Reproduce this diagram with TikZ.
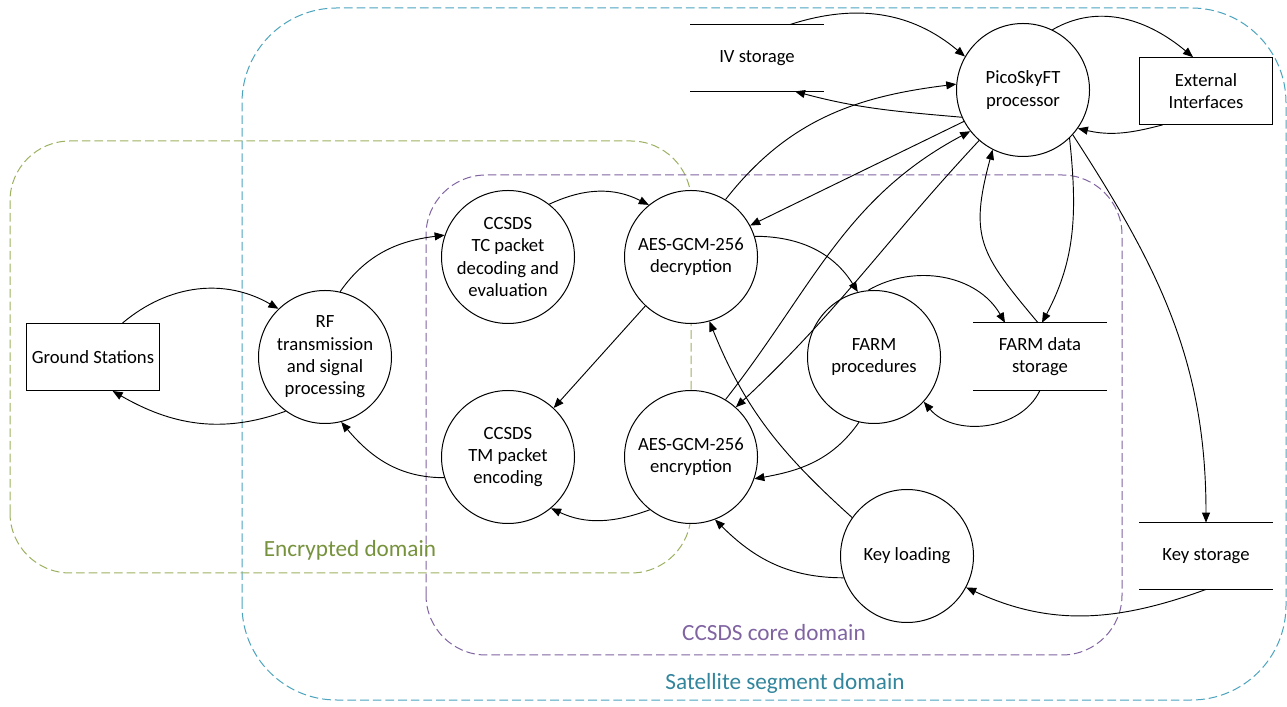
\documentclass[tikz,border=0pt]{standalone}
\usepackage{fontspec}
\setmainfont{Carlito}
\usetikzlibrary{arrows.meta,calc}
\definecolor{tealline}{HTML}{4BA3BE}
\definecolor{teallabel}{HTML}{31859C}
\definecolor{greenline}{HTML}{9BB160}
\definecolor{greenlabel}{HTML}{76923C}
\definecolor{purpleline}{HTML}{8064A2}
\definecolor{purplelabel}{HTML}{8064A2}
\begin{document}
\begin{tikzpicture}[x=0.75pt,y=0.75pt,
  proc/.style={circle,draw,fill=white,line width=0.75pt,minimum size=99.75pt,inner sep=0pt,align=center,font=\fontsize{14}{16.8}\selectfont},
  extbox/.style={rectangle,draw,fill=white,line width=0.75pt,minimum width=100pt,minimum height=50pt,inner sep=0pt,align=center,font=\fontsize{14}{16.8}\selectfont},
  store/.style={rectangle,minimum width=100pt,minimum height=49.75pt,inner sep=0pt,align=center,font=\fontsize{14}{16.8}\selectfont},
  storeline/.style={line width=0.75pt},
  conn/.style={line width=0.7pt,-{Triangle[length=7.5pt,width=6pt]}},
  dom/.style={line width=0.75pt,dash pattern=on 6.5pt off 3pt},
  domlabel/.style={font=\fontsize{17.4}{20}\selectfont,inner sep=0pt}]
\useasboundingbox (0,0) rectangle (1287,706);
% domains
\draw[dom,tealline,rounded corners=71pt] (242,6) rectangle (1286,698);
\draw[dom,greenline,rounded corners=45pt] (10,133) rectangle (691,565);
\draw[dom,purpleline,rounded corners=45pt] (426,51) rectangle (1122,531);
\node[domlabel,text=greenlabel] (lenc) at (350,156) {Encrypted domain};
\node[domlabel,text=purplelabel] (lcore) at (774,73) {CCSDS core domain};
\node[domlabel,text=teallabel] (lsat) at (785,23) {Satellite segment domain};
% nodes
\node[extbox,minimum height=50.25pt] (gs) at (93,349) {Ground Stations};
\node[proc] (rf) at (325,349) {RF\\transmission\\and signal\\processing};
\node[proc] (tc) at (508,449) {CCSDS\\TC packet\\decoding and\\evaluation};
\node[proc] (dec) at (691,449) {AES-GCM-256\\decryption};
\node[proc] (tm) at (508,249) {CCSDS\\TM packet\\encoding};
\node[proc] (enc) at (691,249) {AES-GCM-256\\encryption};
\node[proc] (farm) at (874,349) {FARM\\procedures};
\node[proc] (key) at (907,150) {Key loading};
\node[proc] (pico) at (1023,616) {PicoSkyFT\\processor};
\node[extbox] (ext) at (1206,615) {External\\Interfaces};
\node[store] (iv) at (757,648) {IV storage};
\node[store,minimum height=50.25pt] (fds) at (1040,349.5) {FARM data\\storage};
\node[store] (ks) at (1206,150) {Key storage};
\foreach \s in {iv,fds,ks}{
  \draw[storeline] (\s.north west) -- (\s.north east);
  \draw[storeline] (\s.south west) -- (\s.south east);
}
% connectors
\draw[conn] (gs.49.5) to[out=40,in=150] (rf.134);
\draw[conn] (rf.234) to[out=200,in=-30] (gs.300.5);
\draw[conn] (rf.77) to[out=55,in=187] (tc.161);
\draw[conn] (tc.52) to[out=25,in=153] (dec.129);
\draw[conn] (dec.227) -- (tm.47);
\draw[conn] (enc.232) to[out=200,in=-25] (tm.310);
\draw[conn] (tm.198) to[out=180,in=-50] (rf.284);
\draw[conn] (dec.18) to[out=0,in=122] (farm.104);
\draw[conn] (farm.95) to[out=30,in=120] ($(fds.north)+(-35,0)$);
\draw[conn] (fds.south) to[out=245,in=-50] (farm.318);
\draw[conn] (farm.257) to[out=235,in=10] (enc.341);
\draw[conn] (key.145) to[out=138,in=292] (dec.286);
\draw[conn] (key.199) to[out=180,in=-45] (enc.291);
\draw[conn] (ks.south) to[out=200,in=-25] (key.332);
\draw[conn] (pico.318) to[out=-57,in=90] (ks.north);
\draw[conn] (pico.314) to[out=-84,in=62] ($(fds.north)+(2,0)$);
\draw[conn] ($(fds.north)+(-2,0)$) to[out=130,in=-105,looseness=1.3] (pico.243);
\draw[conn] (ext.218) to[out=195,in=-13] (pico.325);
\draw[conn] (pico.64) to[out=30,in=140] (ext.111.5);
\draw[conn] ($(iv.north)+(33,0)$) to[out=18,in=140] (pico.150);
\draw[conn] (pico.204) to[out=175,in=-15] ($(iv.south)+(38,0)$);
\draw[conn] (dec.59) to[out=52,in=187] (pico.175);
\draw[conn] (pico.208) -- (dec.28);
\draw[conn] (enc.59) to[out=52,in=208] (pico.218.5);
\draw[conn] (pico.229) to[out=227,in=43] (enc.48.5);
\end{tikzpicture}
\end{document}
